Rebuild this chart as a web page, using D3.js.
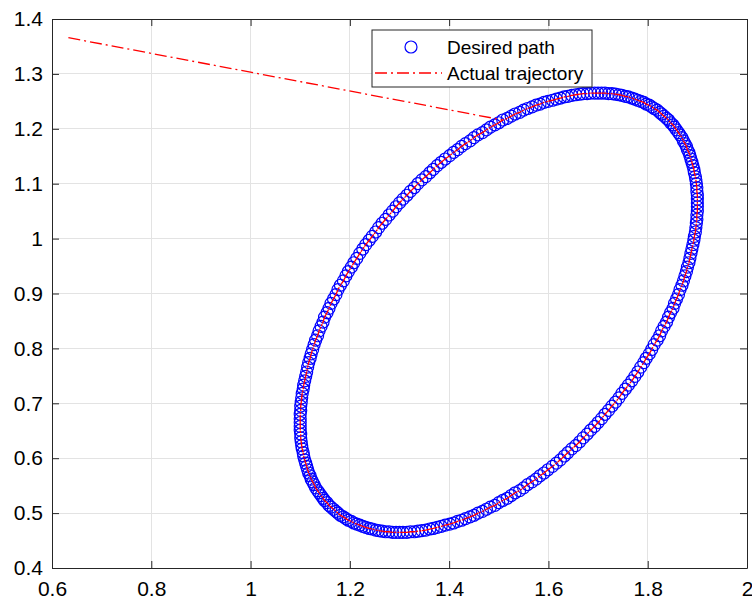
<!DOCTYPE html>
<html>
<head>
<meta charset="utf-8">
<script src="https://cdn.jsdelivr.net/npm/d3@7"></script>
<style>
  html, body { margin: 0; padding: 0; background: #ffffff; }
  svg { display: block; }
  text { font-family: "Liberation Sans", Arial, Helvetica, sans-serif; }
</style>
</head>
<body>
<svg id="chart" width="752" height="601"></svg>
<script>
// ---------------- DATA ----------------
const xTicks = [0.6, 0.8, 1, 1.2, 1.4, 1.6, 1.8, 2];
const xTickLabels = ["0.6", "0.8", "1", "1.2", "1.4", "1.6", "1.8", "2"];
const yTicks = [0.4, 0.5, 0.6, 0.7, 0.8, 0.9, 1, 1.1, 1.2, 1.3, 1.4];
const yTickLabels = ["0.4", "0.5", "0.6", "0.7", "0.8", "0.9", "1", "1.1", "1.2", "1.3", "1.4"];
const seriesNames = ["Desired path", "Actual trajectory"];

// Desired path (blue circles)
const pathX = [
1.900,1.900,1.900,1.899,1.899,1.898,1.897,1.896,1.894,1.893,1.891,1.889,1.887,1.885,1.883,1.880,1.878,1.875,1.872,1.869,
1.865,1.862,1.858,1.854,1.851,1.846,1.842,1.838,1.833,1.828,1.824,1.819,1.813,1.808,1.803,1.797,1.792,1.786,1.780,1.774,
1.768,1.761,1.755,1.748,1.742,1.735,1.728,1.721,1.714,1.707,1.700,1.693,1.685,1.678,1.670,1.663,1.655,1.647,1.639,1.632,
1.624,1.616,1.608,1.599,1.591,1.583,1.575,1.567,1.558,1.550,1.542,1.533,1.525,1.517,1.508,1.500,
1.492,1.483,1.475,1.467,1.458,1.450,1.442,1.433,1.425,1.417,1.409,1.401,1.392,1.384,1.376,1.368,1.361,1.353,1.345,1.337,
1.330,1.322,1.315,1.307,1.300,1.293,1.286,1.279,1.272,1.265,1.258,1.252,1.245,1.239,1.232,1.226,1.220,1.214,1.208,1.203,
1.197,1.192,1.187,1.181,1.176,1.172,1.167,1.162,1.158,1.154,1.149,1.146,1.142,1.138,1.135,1.131,1.128,1.125,1.122,1.120,
1.117,1.115,1.113,1.111,1.109,1.107,1.106,1.104,1.103,1.102,1.101,1.101,1.100,1.100,1.100,
1.100,1.100,1.101,1.101,1.102,1.103,1.104,1.106,1.107,1.109,1.111,1.113,1.115,1.117,1.120,1.122,1.125,1.128,1.131,1.135,
1.138,1.142,1.146,1.149,1.154,1.158,1.162,1.167,1.172,1.176,1.181,1.187,1.192,1.197,1.203,1.208,1.214,1.220,1.226,1.232,
1.239,1.245,1.252,1.258,1.265,1.272,1.279,1.286,1.293,1.300,1.307,1.315,1.322,1.330,1.337,1.345,1.353,1.361,1.368,1.376,
1.384,1.392,1.401,1.409,1.417,1.425,1.433,1.442,1.450,1.458,1.467,1.475,1.483,1.492,1.500,
1.508,1.517,1.525,1.533,1.542,1.550,1.558,1.567,1.575,1.583,1.591,1.599,1.608,1.616,1.624,1.632,1.639,1.647,1.655,1.663,
1.670,1.678,1.685,1.693,1.700,1.707,1.714,1.721,1.728,1.735,1.742,1.748,1.755,1.761,1.768,1.774,1.780,1.786,1.792,1.797,
1.803,1.808,1.813,1.819,1.824,1.828,1.833,1.838,1.842,1.846,1.851,1.854,1.858,1.862,1.865,1.869,1.872,1.875,1.878,1.880,
1.883,1.885,1.887,1.889,1.891,1.893,1.894,1.896,1.897,1.898,1.899,1.899,1.900,1.900
];
const pathY = [
1.065,1.072,1.079,1.086,1.093,1.100,1.107,1.113,1.120,1.126,1.133,1.139,1.145,1.151,1.157,1.162,1.168,1.173,1.178,1.184,
1.189,1.193,1.198,1.203,1.207,1.211,1.216,1.219,1.223,1.227,1.230,1.234,1.237,1.240,1.243,1.245,1.248,1.250,1.252,1.254,
1.256,1.258,1.259,1.261,1.262,1.263,1.264,1.264,1.265,1.265,
1.265,1.265,1.265,1.264,1.264,1.263,1.262,1.261,1.259,1.258,1.256,1.254,1.252,1.250,1.248,1.245,1.243,1.240,1.237,1.234,
1.230,1.227,1.223,1.219,1.216,1.211,1.207,1.203,1.198,1.193,1.189,1.184,1.178,1.173,1.168,1.162,1.157,1.151,1.145,1.139,
1.133,1.126,1.120,1.113,1.107,1.100,1.093,1.086,1.079,1.072,1.065,1.058,1.050,1.043,1.035,1.028,1.020,1.012,1.004,0.997,
0.989,0.981,0.973,0.964,0.956,0.948,0.940,0.932,0.923,0.915,0.907,0.898,0.890,0.882,0.873,0.865,
0.857,0.848,0.840,0.832,0.823,0.815,0.807,0.798,0.790,0.782,0.774,0.766,0.757,0.749,0.741,0.733,0.726,0.718,0.710,0.702,
0.695,0.687,0.680,0.672,0.665,0.658,0.651,0.644,0.637,0.630,0.623,0.617,0.610,0.604,0.597,0.591,0.585,0.579,0.573,0.568,
0.562,0.557,0.552,0.546,0.541,0.537,0.532,0.527,0.523,0.519,0.514,0.511,0.507,0.503,0.500,0.496,0.493,0.490,0.487,0.485,
0.482,0.480,0.478,0.476,0.474,0.472,0.471,0.469,0.468,0.467,0.466,0.466,0.465,0.465,0.465,
0.465,0.465,0.466,0.466,0.467,0.468,0.469,0.471,0.472,0.474,0.476,0.478,0.480,0.482,0.485,0.487,0.490,0.493,0.496,0.500,
0.503,0.507,0.511,0.514,0.519,0.523,0.527,0.532,0.537,0.541,0.546,0.552,0.557,0.562,0.568,0.573,0.579,0.585,0.591,0.597,
0.604,0.610,0.617,0.623,0.630,0.637,0.644,0.651,0.658,0.665,0.672,0.680,0.687,0.695,0.702,0.710,0.718,0.726,0.733,0.741,
0.749,0.757,0.766,0.774,0.782,0.790,0.798,0.807,0.815,0.823,0.832,0.840,0.848,0.857,0.865,
0.873,0.882,0.890,0.898,0.907,0.915,0.923,0.932,0.940,0.948,0.956,0.964,0.973,0.981,0.989,0.997,1.004,1.012,1.020,1.028,
1.035,1.043,1.050,1.058
];

// Actual trajectory: starts off the path, runs straight in, then tracks the path
const trajStartX = [0.633];
const trajStartY = [1.366];
const trajJoinIndex = 74; // path point where the trajectory meets the path
const trajLaps = 2;       // laps of the path traced after joining

// ---------------- CHART ----------------
const svg = d3.select("#chart");
const L = 52, R = 747, T = 19, B = 568;
const x = d3.scaleLinear().domain([0.6, 2]).range([L, R]);
const y = d3.scaleLinear().domain([0.4, 1.4]).range([B, T]);

const axisColor = "#262626";
const fontSize = 21;

// grid
const grid = svg.append("g");
grid.selectAll("line.gx").data(xTicks).join("line")
  .attr("x1", d => x(d)).attr("x2", d => x(d))
  .attr("y1", T).attr("y2", B)
  .attr("stroke", "#e3e3e3").attr("stroke-width", 1).attr("shape-rendering", "crispEdges");
grid.selectAll("line.gy").data(yTicks).join("line")
  .attr("y1", d => y(d)).attr("y2", d => y(d))
  .attr("x1", L).attr("x2", R)
  .attr("stroke", "#e3e3e3").attr("stroke-width", 1).attr("shape-rendering", "crispEdges");

// data
const pathPts = pathX.map((v, i) => [v, pathY[i]]);
let trajPts = trajStartX.map((v, i) => [v, trajStartY[i]]);
for (let lap = 0; lap < trajLaps; lap++) {
  trajPts = trajPts.concat(pathPts.slice(trajJoinIndex)).concat(pathPts.slice(0, trajJoinIndex));
}
trajPts.push(pathPts[trajJoinIndex]);

svg.append("g").selectAll("circle").data(pathPts).join("circle")
  .attr("cx", d => x(d[0])).attr("cy", d => y(d[1]))
  .attr("r", 6)
  .attr("fill", "none").attr("stroke", "#0000ff").attr("stroke-width", 1.2);

const lineGen = d3.line().x(d => x(d[0])).y(d => y(d[1]));
svg.append("path").datum(trajPts)
  .attr("d", lineGen)
  .attr("fill", "none").attr("stroke", "#ff0000").attr("stroke-width", 1.3)
  .attr("stroke-dasharray", "12,4,2,4");

// axes
function styleAxis(g) {
  g.select(".domain").attr("stroke", axisColor).attr("stroke-width", 1);
  g.selectAll(".tick line").attr("stroke", axisColor).attr("stroke-width", 1);
  g.selectAll("text").attr("fill", "#000").attr("font-size", fontSize)
    .attr("font-family", "'Liberation Sans', Arial, Helvetica, sans-serif");
}
const xAxis = d3.axisBottom(x).tickValues(xTicks).tickFormat((d, i) => xTickLabels[i])
  .tickSizeInner(-7).tickSizeOuter(0).tickPadding(13);
svg.append("g").attr("transform", `translate(0,${B})`).call(xAxis).call(styleAxis);

const xAxisTop = d3.axisTop(x).tickValues(xTicks).tickFormat("")
  .tickSizeInner(-7).tickSizeOuter(0);
svg.append("g").attr("transform", `translate(0,${T})`).call(xAxisTop).call(styleAxis);

const yAxis = d3.axisLeft(y).tickValues(yTicks).tickFormat((d, i) => yTickLabels[i])
  .tickSizeInner(-7).tickSizeOuter(0).tickPadding(9);
svg.append("g").attr("transform", `translate(${L},0)`).call(yAxis).call(styleAxis);

const yAxisRight = d3.axisRight(y).tickValues(yTicks).tickFormat("")
  .tickSizeInner(-7).tickSizeOuter(0);
svg.append("g").attr("transform", `translate(${R},0)`).call(yAxisRight).call(styleAxis);

// legend
const lg = svg.append("g");
lg.append("rect").attr("x", 372).attr("y", 30).attr("width", 220).attr("height", 57)
  .attr("fill", "#fff").attr("stroke", axisColor).attr("stroke-width", 1);
lg.append("circle").attr("cx", 411).attr("cy", 47).attr("r", 6)
  .attr("fill", "none").attr("stroke", "#0000ff").attr("stroke-width", 1.2);
lg.append("line").attr("x1", 375).attr("x2", 442).attr("y1", 73).attr("y2", 73)
  .attr("stroke", "#ff0000").attr("stroke-width", 1.3).attr("stroke-dasharray", "12,4,2,4");
lg.selectAll("text").data(seriesNames).join("text")
  .attr("x", 447).attr("y", (d, i) => i === 0 ? 47 : 73)
  .attr("dy", "0.36em").attr("font-size", 19).attr("fill", "#000")
  .text(d => d);
</script>
</body>
</html>
